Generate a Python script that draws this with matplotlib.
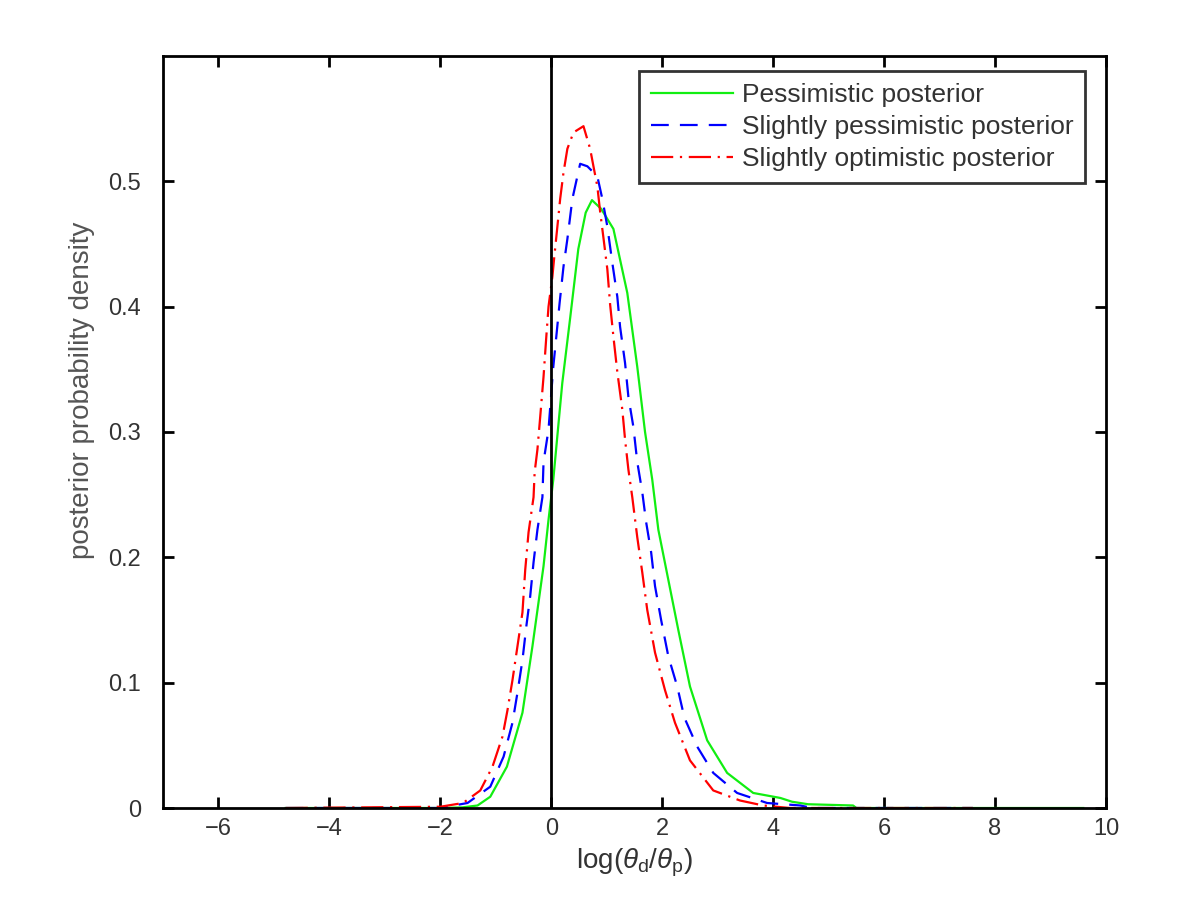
import numpy as np
import matplotlib
matplotlib.use('Agg')
from matplotlib import pyplot as plt

# values
green_x = [-4.79, -2.0, -1.6, -1.33, -1.1, -0.80, -0.52, -0.34, -0.14, -0.05, 0.036, 0.198, 0.343,
           0.487, 0.62, 0.733, 0.90, 1.12, 1.37, 1.55, 1.69, 1.82, 1.93, 2.11, 2.29, 2.50, 2.81,
           3.17, 3.64, 4.13, 4.34, 4.63, 5.44, 5.5, 9.59]
green_y = [0.0, 0.0, 0.0005, 0.002, 0.009, 0.033, 0.076, 0.129, 0.193, 0.23, 0.262, 0.339, 0.392,
           0.446, 0.475, 0.485, 0.478, 0.462, 0.411, 0.352, 0.300, 0.262, 0.222, 0.182, 0.142, 0.097, 0.054,
           0.028, 0.012, 0.008, 0.005, 0.003, 0.002, 0.0, 0.0]

blue_x = [-4.79, -2.0, -1.51, -1.10, -0.86, -0.70, -0.61, -0.52, -0.45, -0.38, -0.32, -0.25,
          -0.16, -0.14, -0.05, 0.036, 0.09, 0.15, 0.22, 0.29, 0.38, 0.52, 0.65, 0.83, 0.92, 1.01,
          1.10, 1.19, 1.24, 1.33, 1.39, 1.48, 1.55, 1.64, 1.71, 1.80, 1.87, 1.98, 2.11, 2.27,
          2.40, 2.63, 2.92, 3.35, 3.89, 4.49, 4.7, 7.6]
blue_y = [0.0, 0.0, 0.004, 0.017, 0.041, 0.068, 0.092, 0.118, 0.145, 0.169, 0.196, 0.222,
          0.248, 0.276, 0.302, 0.352, 0.376, 0.403, 0.432, 0.454, 0.486, 0.514, 0.512, 0.504, 0.486, 0.464,
          0.435, 0.408, 0.384, 0.355, 0.328, 0.304, 0.276, 0.252, 0.228, 0.204, 0.177, 0.150, 0.121, 0.097,
          0.072, 0.049, 0.028, 0.012, 0.004, 0.002, 0.0, 0.0]

red_x = [-4.79, -2.0, -1.59, -1.28, -1.06, -0.88, -0.79, -0.70, -0.61, -0.52, -0.47, -0.41,
         -0.32, -0.30, -0.25, -0.20, -0.14, -0.09, -0.05, 0.02, 0.05, 0.11, 0.16, 0.22, 0.29,
         0.40, 0.58, 0.70, 0.76, 0.83, 0.88, 0.94, 1.01, 1.06, 1.12, 1.19, 1.28, 1.33, 1.39,
         1.46, 1.55, 1.64, 1.73, 1.87, 2.05, 2.23, 2.50, 2.92, 3.40, 3.82, 4.3, 7.6]
red_y = [0.0, 0.001, 0.004, 0.014, 0.033, 0.057, 0.078, 0.102, 0.129, 0.156, 0.19, 0.22,
         0.248, 0.268, 0.286, 0.312, 0.344, 0.376, 0.40, 0.424, 0.438, 0.464, 0.486, 0.507, 0.526,
         0.539, 0.544, 0.526, 0.512, 0.496, 0.476, 0.455, 0.43, 0.402, 0.376, 0.348, 0.318, 0.294, 0.27,
         0.248, 0.216, 0.188, 0.158, 0.124, 0.094, 0.068, 0.038, 0.014, 0.006, 0.002, 0.0, 0.0]

labels = ['Pessimistic posterior', 'Slightly pessimistic posterior', 'Slightly optimistic posterior']

plt.rcParams['font.family'] = ['Liberation Sans', 'DejaVu Sans']
plt.rcParams['mathtext.fontset'] = 'custom'
plt.rcParams['mathtext.rm'] = 'Liberation Sans'
plt.rcParams['mathtext.it'] = 'Liberation Sans:italic'

fig = plt.figure(figsize=(12, 9.22), dpi=100)
ax = fig.add_axes([163 / 1200, 1 - 808 / 922, (1106 - 163) / 1200, (808 - 56) / 922])

lw = 1.6
ax.plot(green_x, green_y, color='#11ee11', lw=lw, label=labels[0])
ax.plot(blue_x, blue_y, color='#0000ff', lw=lw, dashes=(8, 5), label=labels[1])
ax.plot(red_x, red_y, color='#ff0000', lw=lw, dashes=(10, 3, 1, 3), label=labels[2])
ax.axvline(0, color='black', lw=2)

ax.set_xlim(-7, 10)
ax.set_ylim(0, 0.6)
ax.set_xticks(np.arange(-6, 11, 2))
ax.set_yticks([0, 0.1, 0.2, 0.3, 0.4, 0.5])
ax.set_xticklabels(['\u22126', '\u22124', '\u22122', '0', '2', '4', '6', '8', '10'])
ax.set_yticklabels(['0', '0.1', '0.2', '0.3', '0.4', '0.5'])

ax.tick_params(direction='in', length=8, width=2, top=True, right=True,
               labelsize=17, colors='black', labelcolor='#333333')
ax.tick_params(axis='y', pad=16)
ax.tick_params(axis='x', pad=7)
for s in ax.spines.values():
	s.set_linewidth(2)

ax.set_xlabel(r'log($\theta_\mathrm{d}$/$\theta_\mathrm{p}$)', fontsize=20, color='#333333', labelpad=5)
ax.set_ylabel('posterior probability density', fontsize=20, color='#555555', labelpad=2)
ax.yaxis.set_label_coords(-0.072, 0.555)

leg = ax.legend(loc='upper right', bbox_to_anchor=(0.978, 0.980), borderaxespad=0,
                fontsize=19, frameon=True, fancybox=False, handlelength=3.1,
                handletextpad=0.35, labelspacing=0.3, borderpad=0.45)
leg.get_frame().set_edgecolor('black')
leg.get_frame().set_linewidth(2)
for t in leg.get_texts():
	t.set_color('#333333')

fig.savefig('out.png', dpi=100, facecolor='white')
